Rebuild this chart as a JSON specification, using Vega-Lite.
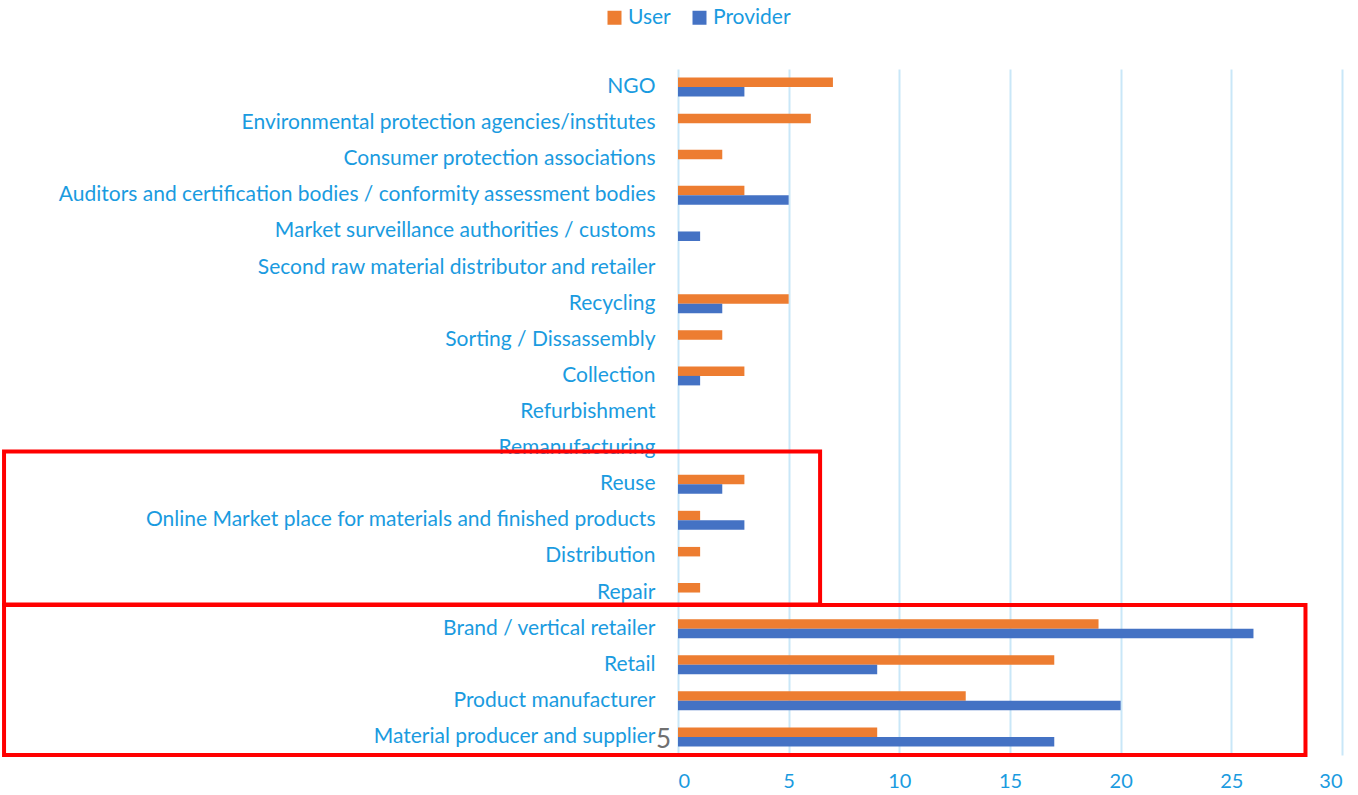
{
  "$schema": "https://vega.github.io/schema/vega-lite/v6.json",
  "width": 664,
  "height": 686,
  "autosize": {"type": "none"},
  "padding": {"left": 678, "top": 69, "right": 16, "bottom": 40},
  "background": "white",
  "config": {
    "view": {"stroke": null},
    "font": "Lato"
  },
  "layer": [
    {
      "data": {
        "values": [
          {"category": "NGO", "series": "User", "value": 7},
          {"category": "NGO", "series": "Provider", "value": 3},
          {"category": "Environmental protection agencies/institutes", "series": "User", "value": 6},
          {"category": "Environmental protection agencies/institutes", "series": "Provider", "value": 0},
          {"category": "Consumer protection associations", "series": "User", "value": 2},
          {"category": "Consumer protection associations", "series": "Provider", "value": 0},
          {"category": "Auditors and certification bodies / conformity assessment bodies", "series": "User", "value": 3},
          {"category": "Auditors and certification bodies / conformity assessment bodies", "series": "Provider", "value": 5},
          {"category": "Market surveillance authorities / customs", "series": "User", "value": 0},
          {"category": "Market surveillance authorities / customs", "series": "Provider", "value": 1},
          {"category": "Second raw material distributor and retailer", "series": "User", "value": 0},
          {"category": "Second raw material distributor and retailer", "series": "Provider", "value": 0},
          {"category": "Recycling", "series": "User", "value": 5},
          {"category": "Recycling", "series": "Provider", "value": 2},
          {"category": "Sorting / Dissassembly", "series": "User", "value": 2},
          {"category": "Sorting / Dissassembly", "series": "Provider", "value": 0},
          {"category": "Collection", "series": "User", "value": 3},
          {"category": "Collection", "series": "Provider", "value": 1},
          {"category": "Refurbishment", "series": "User", "value": 0},
          {"category": "Refurbishment", "series": "Provider", "value": 0},
          {"category": "Remanufacturing", "series": "User", "value": 0},
          {"category": "Remanufacturing", "series": "Provider", "value": 0},
          {"category": "Reuse", "series": "User", "value": 3},
          {"category": "Reuse", "series": "Provider", "value": 2},
          {"category": "Online Market place for materials and finished products", "series": "User", "value": 1},
          {"category": "Online Market place for materials and finished products", "series": "Provider", "value": 3},
          {"category": "Distribution", "series": "User", "value": 1},
          {"category": "Distribution", "series": "Provider", "value": 0},
          {"category": "Repair", "series": "User", "value": 1},
          {"category": "Repair", "series": "Provider", "value": 0},
          {"category": "Brand / vertical retailer", "series": "User", "value": 19},
          {"category": "Brand / vertical retailer", "series": "Provider", "value": 26},
          {"category": "Retail", "series": "User", "value": 17},
          {"category": "Retail", "series": "Provider", "value": 9},
          {"category": "Product manufacturer", "series": "User", "value": 13},
          {"category": "Product manufacturer", "series": "Provider", "value": 20},
          {"category": "Material producer and supplier", "series": "User", "value": 9},
          {"category": "Material producer and supplier", "series": "Provider", "value": 17}
        ]
      },
      "mark": {"type": "bar"},
      "encoding": {
        "y": {
          "field": "category",
          "type": "nominal",
          "scale": {
            "domain": [
              "NGO",
              "Environmental protection agencies/institutes",
              "Consumer protection associations",
              "Auditors and certification bodies / conformity assessment bodies",
              "Market surveillance authorities / customs",
              "Second raw material distributor and retailer",
              "Recycling",
              "Sorting / Dissassembly",
              "Collection",
              "Refurbishment",
              "Remanufacturing",
              "Reuse",
              "Online Market place for materials and finished products",
              "Distribution",
              "Repair",
              "Brand / vertical retailer",
              "Retail",
              "Product manufacturer",
              "Material producer and supplier"
            ],
            "paddingInner": 0,
            "paddingOuter": 0
          },
          "axis": {
            "title": null,
            "domain": false,
            "ticks": false,
            "labelPadding": 23,
            "labelFont": "Lato",
            "labelFontSize": 21,
            "labelColor": "#1a9be0",
            "labelLimit": 700
          }
        },
        "yOffset": {
          "field": "series",
          "type": "nominal",
          "scale": {"domain": ["User", "Provider"], "paddingInner": 0, "paddingOuter": 0.9}
        },
        "x": {
          "field": "value",
          "type": "quantitative",
          "scale": {"domain": [0, 30], "nice": false},
          "axis": {
            "title": null,
            "values": [0, 5, 10, 15, 20, 25, 30],
            "domain": false,
            "ticks": false,
            "grid": true,
            "gridColor": "#c9e7f8",
            "gridWidth": 2,
            "labelPadding": 16,
            "labelFont": "Lato",
            "labelFontSize": 20,
            "labelColor": "#1a9be0"
          }
        },
        "color": {
          "field": "series",
          "type": "nominal",
          "scale": {"domain": ["User", "Provider"], "range": ["#ed7d31", "#4472c4"]},
          "legend": {
            "title": null,
            "orient": "none",
            "direction": "horizontal",
            "legendX": -74,
            "legendY": -62,
            "symbolType": "square",
            "symbolSize": 196,
            "symbolStrokeWidth": 0,
            "symbolOpacity": 1,
            "labelFont": "Lato",
            "labelFontSize": 21,
            "labelColor": "#1a9be0",
            "labelOffset": 3,
            "columnPadding": 18
          }
        }
      }
    },
    {
      "data": {"values": [{"top": "Remanufacturing", "bottom": "Repair", "left": -30.45, "right": 6.42}]},
      "mark": {"type": "rect", "fill": null, "fillOpacity": 0, "stroke": "#ff0000", "strokeWidth": 4},
      "encoding": {
        "y": {"field": "top", "type": "nominal", "bandPosition": 0.595},
        "y2": {"field": "bottom", "bandPosition": 0.835},
        "x": {"field": "left", "type": "quantitative"},
        "x2": {"field": "right"}
      }
    },
    {
      "data": {"values": [{"top": "Repair", "bottom": "Material producer and supplier", "left": -30.45, "right": 28.35}]},
      "mark": {"type": "rect", "fill": null, "fillOpacity": 0, "stroke": "#ff0000", "strokeWidth": 4},
      "encoding": {
        "y": {"field": "top", "type": "nominal", "bandPosition": 0.845},
        "y2": {"field": "bottom", "bandPosition": 1.0},
        "x": {"field": "left", "type": "quantitative"},
        "x2": {"field": "right"}
      }
    },
    {
      "data": {"values": [{"category": "Material producer and supplier", "pos": -0.65, "label": "5"}]},
      "mark": {"type": "text", "font": "Lato", "fontSize": 26, "color": "#707070", "align": "center", "baseline": "middle", "dy": 3},
      "encoding": {
        "y": {"field": "category", "type": "nominal"},
        "x": {"field": "pos", "type": "quantitative"},
        "text": {"field": "label"}
      }
    }
  ]
}
